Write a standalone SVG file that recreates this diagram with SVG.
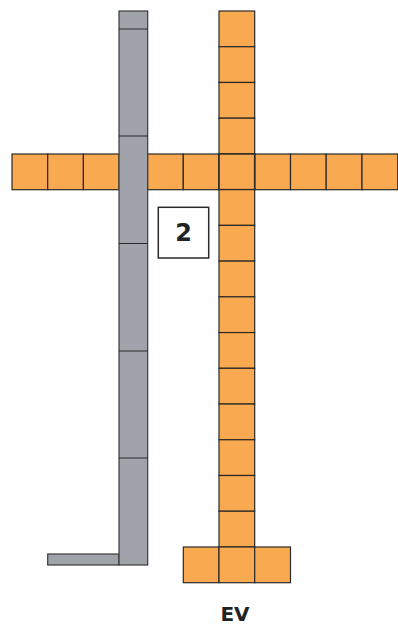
<svg xmlns="http://www.w3.org/2000/svg" width="398" height="627" viewBox="0 0 398 627">
<style>
.o{fill:#F9A94F;stroke:#2a2a2a;stroke-width:1.2}
.g{fill:#A0A3AA;stroke:#3a3a3a;stroke-width:1.2}
.d{stroke:#2a2a2a;stroke-width:1.2;fill:none}
.t{font-family:"DejaVu Sans",Verdana,sans-serif;font-weight:bold;fill:#222;text-anchor:middle}
</style>
<rect width="398" height="627" fill="#fff"/>
<g id="row">
<rect class="o" x="12" y="154" width="35.7" height="35.7"/>
<rect class="o" x="47.7" y="154" width="35.7" height="35.7"/>
<rect class="o" x="83.4" y="154" width="35.7" height="35.7"/>
<rect class="o" x="147.5" y="154" width="35.8" height="35.7"/>
<rect class="o" x="183.3" y="154" width="35.7" height="35.7"/>
<rect class="o" x="254.7" y="154" width="35.8" height="35.7"/>
<rect class="o" x="290.5" y="154" width="35.7" height="35.7"/>
<rect class="o" x="326.2" y="154" width="35.8" height="35.7"/>
<rect class="o" x="362" y="154" width="35.7" height="35.7"/>
</g>
<g id="column">
<rect class="o" x="219" y="11" width="35.7" height="35.73"/>
<rect class="o" x="219" y="46.73" width="35.7" height="35.73"/>
<rect class="o" x="219" y="82.46" width="35.7" height="35.73"/>
<rect class="o" x="219" y="118.19" width="35.7" height="35.73"/>
<rect class="o" x="219" y="153.92" width="35.7" height="35.73" style="stroke-width:1.6"/>
<rect class="o" x="219" y="189.65" width="35.7" height="35.73"/>
<rect class="o" x="219" y="225.38" width="35.7" height="35.73"/>
<rect class="o" x="219" y="261.11" width="35.7" height="35.73"/>
<rect class="o" x="219" y="296.84" width="35.7" height="35.73"/>
<rect class="o" x="219" y="332.57" width="35.7" height="35.73"/>
<rect class="o" x="219" y="368.3" width="35.7" height="35.73"/>
<rect class="o" x="219" y="404.03" width="35.7" height="35.73"/>
<rect class="o" x="219" y="439.76" width="35.7" height="35.73"/>
<rect class="o" x="219" y="475.49" width="35.7" height="35.73"/>
<rect class="o" x="219" y="511.22" width="35.7" height="35.73"/>
</g>
<g id="base">
<rect class="o" x="183.3" y="547" width="35.7" height="35.7"/>
<rect class="o" x="219" y="547" width="35.7" height="35.7"/>
<rect class="o" x="254.7" y="547" width="35.8" height="35.7"/>
</g>
<g id="grey-bar">
<rect class="g" x="47.7" y="554" width="71.3" height="11"/>
<rect class="g" x="119" y="11" width="28.7" height="554"/>
<path class="d" d="M119 29H147.7M119 136H147.7M119 243.5H147.7M119 351H147.7M119 458H147.7"/>
</g>
<g id="box-2">
<rect x="158.3" y="207.3" width="50.4" height="50.7" fill="#fff" stroke="#2a2a2a" stroke-width="1.5"/>
<text class="t" x="183.5" y="240.7" font-size="24">2</text>
</g>
<g id="label-ev">
<text class="t" x="235" y="620.7" font-size="20">EV</text>
</g>
</svg>
